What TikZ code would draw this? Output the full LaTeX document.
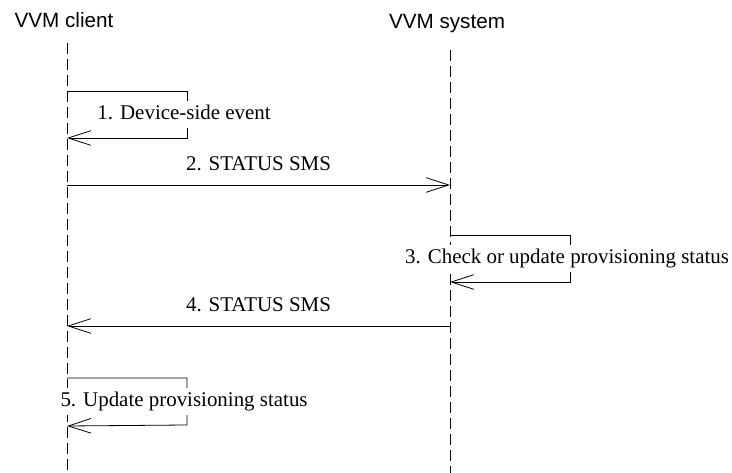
\documentclass[tikz,border=0pt]{standalone}
\usepackage{fontspec}
\setmainfont{Liberation Serif}
\newfontfamily\headfont{Liberation Sans}
\usetikzlibrary{arrows.meta}

\begin{document}
\begin{tikzpicture}[x=0.75pt, y=-0.75pt, line width=0.6pt,
    >={Straight Barb[length=17pt, width=11pt]},
    actor/.style={font=\headfont\fontsize{15.5}{18}\selectfont, inner sep=0pt},
    lifeline/.style={dash pattern=on 8pt off 4pt},
    msg/.style={->},
    msglabel/.style={font=\fontsize{15.7}{18}\selectfont, inner sep=0pt},
    looplabel/.style={msglabel, fill=white, inner xsep=0pt, inner ysep=3pt,
      text height=11pt, text depth=3.5pt, xshift=-2.2pt}]

    \useasboundingbox (0,0) rectangle (732,473);

    % lifelines
    \node [actor] (client) at (64,20) {VVM client};
    \node [actor] (system) at (447,24) {VVM system};
    \coordinate (client-top) at (67,43);
    \coordinate (client-end) at (67,473);
    \coordinate (system-top) at (450,50);
    \coordinate (system-end) at (450,473);
    \draw [lifeline] (client-top) -- (client-end);
    \draw [lifeline] (system-top) -- (system-end);

    % anchor points on the lifelines
    \foreach \n/\y in {1/91, 1-back/138, 2/185, 4/326, 5/378, 5-back/426}
      \coordinate (client-\n) at (67,\y);
    \foreach \n/\y in {2/185, 3/235, 3-back/282, 4/326}
      \coordinate (system-\n) at (450,\y);

    % self messages
    \foreach \who/\n/\l in {client/1/{1. Device-side event},
                            system/3/{3. Check or update provisioning status},
                            client/5/{5. Update provisioning status}}
      \draw [msg] (\who-\n) -- ++(120,0) -- ++(0,47)
        node [looplabel, midway] (step\n) {\l} -- (\who-\n-back);

    % messages between lifelines
    \draw [msg] (client-2) -- (system-2)
      node [msglabel, midway, anchor=base, yshift=11pt] (step2) {2. STATUS SMS};
    \draw [msg] (system-4) -- (client-4)
      node [msglabel, midway, anchor=base, yshift=11pt] (step4) {4. STATUS SMS};

\end{tikzpicture}
\end{document}
